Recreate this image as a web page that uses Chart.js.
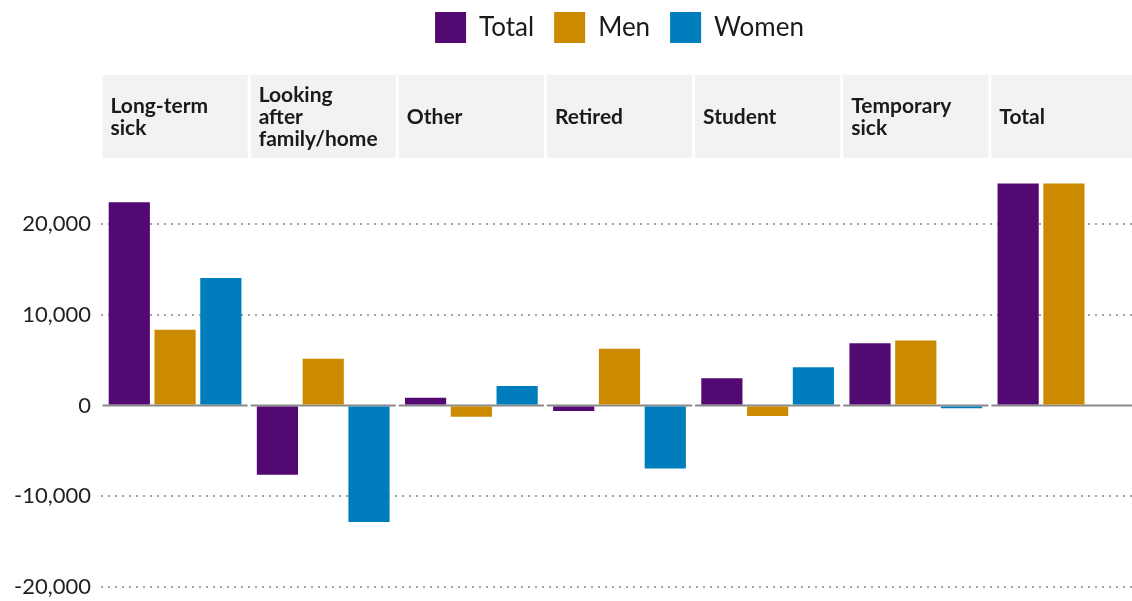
<!DOCTYPE html>
<html>
<head>
<meta charset="utf-8">
<title>Change by reason, Total / Men / Women</title>
<script src="https://cdn.jsdelivr.net/npm/chart.js@4.4.1/dist/chart.umd.min.js"></script>
<style>
  html, body { margin: 0; padding: 0; background: #fff; overflow: hidden; }
  #wrap { width: 1132px; height: 601px; overflow: hidden; }
</style>
</head>
<body>
<div id="wrap"><canvas id="myChart" width="1138" height="601"></canvas></div>
<script>
'use strict';
// facet names (one line per array item, as in the panel headers)
var categories=[
  ['Long-term','sick'],
  ['Looking','after','family/home'],
  ['Other'],
  ['Retired'],
  ['Student'],
  ['Temporary','sick'],
  ['Total']
];
var totalValues=[22400,-7650,850,-600,3000,6850,24450];
var menValues=[8350,5150,-1250,6250,-1150,7150,24450];
var womenValues=[14050,-12850,2150,-6950,4200,-300,0];
var yTicks=[-20000,-10000,0,10000,20000];

var purple='#520a72';
var gold='#cc8a00';
var blue='#007dbd';
var fontName='Lato, "Open Sans", sans-serif';

// reserves room between legend and plot for the facet header strips
var stripSpace={
  position:'top',
  weight:500,
  fullSize:true,
  options:{},
  isHorizontal:function(){return true;},
  update:function(maxWidth){
    this.width=maxWidth;
    this.height=112;
  },
  draw:function(){}
};

var facetPlugin={
  id:'facets',
  beforeInit:function(chart){
    Chart.layouts.addBox(chart,stripSpace);
  },
  beforeDatasetsDraw:function(chart){
    var ctx=chart.ctx;
    var x=chart.scales.x;
    var y=chart.scales.y;
    var area=chart.chartArea;
    var half=(x.getPixelForValue(1)-x.getPixelForValue(0))/2;
    var zero=y.getPixelForValue(0);
    ctx.save();
    for(var i=0;i<categories.length;i++){
      var c=x.getPixelForValue(i);
      var left=c-half+1.5;
      var right=c+half-1.5;
      // header strip
      var top=area.top-90;
      var bottom=area.top-7;
      ctx.fillStyle='#f2f2f2';
      ctx.fillRect(left,top,right-left,bottom-top);
      ctx.fillStyle='#1a1a1a';
      ctx.font='bold 21px '+fontName;
      ctx.textBaseline='middle';
      ctx.textAlign='left';
      var lines=categories[i];
      var lh=22;
      var mid=(top+bottom)/2+1;
      for(var j=0;j<lines.length;j++){
        ctx.fillText(lines[j],left+8,mid+(j-(lines.length-1)/2)*lh);
      }
      // zero line for this panel
      ctx.strokeStyle='#8a8a8a';
      ctx.lineWidth=2;
      ctx.beginPath();
      ctx.moveTo(left,zero);
      ctx.lineTo(right,zero);
      ctx.stroke();
    }
    ctx.restore();
  }
};

function chart(){
  var ctx=document.getElementById('myChart').getContext('2d');
  return new Chart(ctx,{
    type:'bar',
    data:{
      labels:categories.map(function(l){return l.join(' ');}),
      datasets:[
        {label:'Total',data:totalValues,backgroundColor:purple},
        {label:'Men',data:menValues,backgroundColor:gold},
        {label:'Women',data:womenValues,backgroundColor:blue}
      ]
    },
    plugins:[facetPlugin],
    options:{
      responsive:false,
      animation:false,
      categoryPercentage:0.927,
      barPercentage:0.9,
      layout:{padding:{top:-8,bottom:5,left:0,right:0}},
      plugins:{
        legend:{
          position:'top',
          fullSize:false,
          labels:{
            boxWidth:31,
            boxHeight:31,
            padding:20,
            color:'#1a1a1a',
            font:{family:fontName,size:26}
          }
        },
        tooltip:{enabled:false}
      },
      scales:{
        x:{display:false},
        y:{
          min:-21000,
          max:26500,
          afterBuildTicks:function(axis){
            axis.ticks=yTicks.map(function(v){return {value:v};});
          },
          afterFit:function(axis){
            axis.width=101;
            axis.paddingTop=0;
            axis.paddingBottom=0;
          },
          border:{display:false,dash:[2,5]},
          grid:{
            drawTicks:false,
            lineWidth:2,
            color:function(c){
              return c.tick && c.tick.value===0 ? 'rgba(0,0,0,0)' : '#a3a3a3';
            }
          },
          ticks:{
            padding:10,
            color:'#222',
            font:{family:fontName,size:22},
            callback:function(v){return Number(v).toLocaleString('en-US');}
          }
        }
      }
    }
  });
}
chart();
</script>
</body>
</html>
